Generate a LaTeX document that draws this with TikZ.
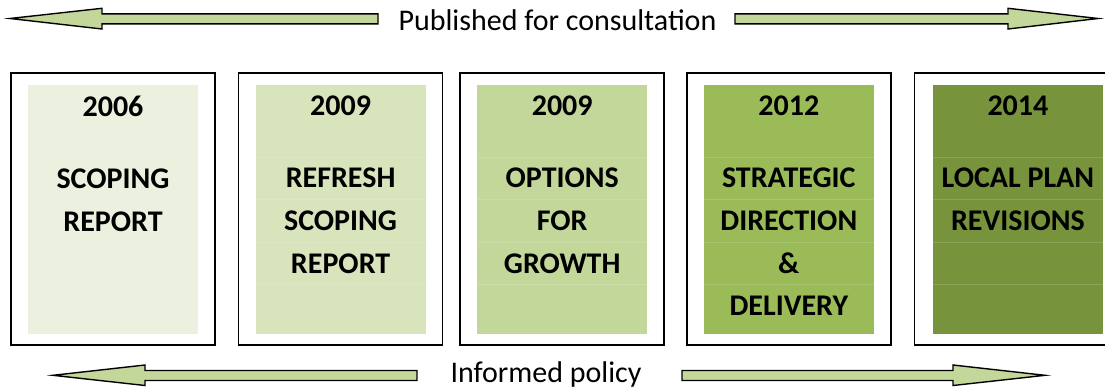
\documentclass[tikz,border=0pt]{standalone}
\usepackage{fontspec}
\setmainfont{Carlito}
\usetikzlibrary{positioning}

\definecolor{StageA}{HTML}{EBF1DE}
\definecolor{StageB}{HTML}{D7E4BC}
\definecolor{StageC}{HTML}{C4D79B}
\definecolor{StageD}{HTML}{9BBB59}
\definecolor{StageE}{HTML}{77933C}
\definecolor{ArrowFill}{HTML}{C4D79B}

\begin{document}
\begin{tikzpicture}[x=1pt, y=-1pt]
		\tikzstyle{Frame} = [rectangle, minimum width=204pt, minimum height=272pt, inner sep=0pt, draw=black, line width=1.6pt]
		\tikzstyle{Sheet} = [rectangle, minimum width=170pt, minimum height=249pt, inner sep=0pt]
		\tikzstyle{Title} = [anchor=north, inner sep=0pt, align=center, font=\fontsize{30}{42.7}\selectfont\bfseries]
		\tikzstyle{Caption} = [anchor=base, inner sep=0pt, font=\fontsize{30}{36}\selectfont]
		\tikzstyle{RowLine} = [white, opacity=0.15, line width=0.6pt]
		\tikzstyle{BlockArrow} = [draw=black, fill=ArrowFill, line width=1.4pt, line join=miter]

		\useasboundingbox (0,0) rectangle (1105,389);

		% outer frames
		\node (f1) [Frame] at (113,209) {};
		\node (f2) [Frame, right = 22pt of f1] {};
		\node (f3) [Frame, right = 16pt of f2] {};
		\node (f4) [Frame, right = 21pt of f3] {};
		\node (f5) [Frame, minimum width=196pt, right = 22pt of f4] {};

		% coloured sheets inside
		\node (s1) [Sheet, fill=StageA] at (f1.center) {};
		\node (s2) [Sheet, fill=StageB] at (f2.center) {};
		\node (s3) [Sheet, fill=StageC] at (f3.center) {};
		\node (s4) [Sheet, fill=StageD] at (f4.center) {};
		\node (s5) [Sheet, fill=StageE] at ([xshift=5.5pt]f5.center) {};

		\foreach \s in {s2,s3,s4,s5}
			\foreach \y in {157,199,242,284}
				\draw [RowLine] (\s.west |- 0,\y) -- (\s.east |- 0,\y);

		\node (t1) [Title] at ([yshift=-11.5pt]s1.north) {2006\\[29.3pt]SCOPING\\REPORT};
		\node (t2) [Title] at ([yshift=-11.5pt]s2.north) {2009\\[29.3pt]REFRESH\\SCOPING\\REPORT};
		\node (t3) [Title] at ([yshift=-11.5pt]s3.north) {2009\\[29.3pt]OPTIONS\\FOR\\GROWTH};
		\node (t4) [Title] at ([yshift=-11.5pt]s4.north) {2012\\[29.3pt]STRATEGIC\\DIRECTION\\\&\\DELIVERY};
		\node (t5) [Title] at ([yshift=-11.5pt]s5.north) {2014\\[29.3pt]LOCAL PLAN\\REVISIONS};

		% captions with their block arrows
		\node (pub) [Caption] at (557.5,30) {Published for consultation};
		\node (inf) [Caption] at (546,382) {Informed policy};

		\draw [BlockArrow] (378,13.8) -- (102,13.8) -- (102,8.3) -- (10,18.5) -- (102,29) -- (102,23.8) -- (378,23.8) -- cycle;
		\draw [BlockArrow] (735,13.8) -- (1008,13.8) -- (1008,8.3) -- (1098,18.5) -- (1008,29) -- (1008,23.8) -- (735,23.8) -- cycle;
		\draw [BlockArrow] (417,370.5) -- (145,370.5) -- (145,365) -- (53,375.3) -- (145,385.5) -- (145,380.5) -- (417,380.5) -- cycle;
		\draw [BlockArrow] (682,370.5) -- (953,370.5) -- (953,365) -- (1045,375.3) -- (953,385.5) -- (953,380.5) -- (682,380.5) -- cycle;
\end{tikzpicture}
\end{document}
